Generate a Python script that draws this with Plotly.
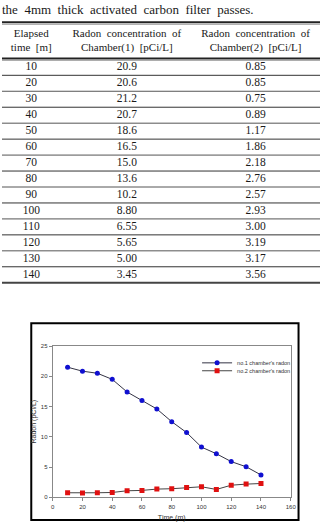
import plotly.graph_objects as go

# ---------------- data ----------------
caption = "the  4mm  thick  activated  carbon  filter  passes."
header_time = ["Elapsed", "time  [m]"]
header_c1 = ["Radon  concentration  of", "Chamber(1)  [pCi/L]"]
header_c2 = ["Radon  concentration  of", "Chamber(2)  [pCi/L]"]
elapsed = ["10", "20", "30", "40", "50", "60", "70", "80", "90", "100", "110", "120", "130", "140"]
table_c1 = ["20.9", "20.6", "21.2", "20.7", "18.6", "16.5", "15.0", "13.6", "10.2", "8.80", "6.55", "5.65", "5.00", "3.45"]
table_c2 = ["0.85", "0.85", "0.75", "0.89", "1.17", "1.86", "2.18", "2.76", "2.57", "2.93", "3.00", "3.19", "3.17", "3.56"]

time_plot = [10, 20, 30, 40, 50, 60, 70, 80, 90, 100, 110, 120, 130, 140]
radon1_plot = [21.5, 20.85, 20.5, 19.5, 17.4, 16.0, 14.6, 12.5, 10.7, 8.3, 7.2, 5.9, 5.05, 3.7]
radon2_plot = [0.75, 0.7, 0.75, 0.8, 1.08, 1.14, 1.36, 1.42, 1.62, 1.74, 1.3, 2.0, 2.18, 2.28]

legend_names = ["no.1 chamber's radon", "no.2 chamber's radon"]
x_ticks = [0, 20, 40, 60, 80, 100, 120, 140, 160]
y_ticks = [0, 5, 10, 15, 20, 25]

# ---------------- layout constants ----------------
W, H = 326, 527
col_x = [30, 128, 260]
serif = "Liberation Serif"
sans = "Liberation Sans"
n = len(elapsed)

fig = go.Figure()

# ---- table drawn on its own hidden axes (x in px units, y in row units) ----
row_y = [i + 0.5 for i in range(n)]
for cx, col in zip(col_x, [elapsed, table_c1, table_c2]):
    fig.add_trace(go.Scatter(
        x=[cx] * n, y=row_y, text=col, mode="text",
        textfont=dict(family=serif, size=11.5, color="#1a1a1a"),
        xaxis="x2", yaxis="y2", showlegend=False, hoverinfo="skip"))
for cx, hdr in zip(col_x, [header_time, header_c1, header_c2]):
    fig.add_trace(go.Scatter(
        x=[cx, cx], y=[-1.57, -0.70], text=hdr, mode="text",
        textfont=dict(family=serif, size=11, color="#1a1a1a"),
        xaxis="x2", yaxis="y2", showlegend=False, hoverinfo="skip"))
fig.add_trace(go.Scatter(
    x=[0], y=[-3.05], text=[caption], mode="text", textposition="middle right",
    textfont=dict(family=serif, size=13, color="#1a1a1a"),
    xaxis="x2", yaxis="y2", showlegend=False, hoverinfo="skip"))

shapes = []
def hline(y, color, width):
    shapes.append(dict(type="line", xref="paper", yref="y2", x0=0, x1=1, y0=y, y1=y,
                       line=dict(color=color, width=width)))
hline(-2.33, "#222", 2)
hline(-2.20, "#999", 1)
hline(-0.06, "#222", 2)
hline(0.06, "#999", 1)
for i in range(1, n):
    hline(i, "#333" if i % 2 else "#555", 1)
hline(n, "#444", 2)

# ---- chart ----
fig.add_trace(go.Scatter(
    x=time_plot, y=radon1_plot, name=legend_names[0], mode="lines+markers",
    line=dict(color="#333344", width=1),
    marker=dict(symbol="circle", size=5, color="#1010d0"),
    legend="legend"))
fig.add_trace(go.Scatter(
    x=time_plot, y=radon2_plot, name=legend_names[1], mode="lines+markers",
    line=dict(color="#444444", width=1),
    marker=dict(symbol="square", size=5, color="#e01010"),
    legend="legend2"))

# outer frame around chart
shapes.append(dict(type="rect", xref="paper", yref="paper",
                   x0=30 / W, x1=304 / W, y0=1 - 523 / H, y1=1 - 324 / H,
                   line=dict(color="#000", width=2)))

leg_common = dict(font=dict(family=sans, size=5.5, color="#333"), bgcolor="rgba(0,0,0,0)",
                  borderwidth=0, xanchor="left", yanchor="middle", itemwidth=30,
                  tracegroupgap=0)

fig.update_layout(
    width=W, height=H, autosize=False,
    margin=dict(l=0, r=0, t=0, b=0),
    paper_bgcolor="white", plot_bgcolor="white",
    shapes=shapes,
    xaxis=dict(domain=[52 / W, 296 / W], range=[0, 160], tickvals=x_ticks,
               ticks="outside", ticklen=3, tickcolor="#888", showline=True, linecolor="#888",
               linewidth=1, mirror=True, showgrid=False, zeroline=False,
               tickfont=dict(family=sans, size=6, color="#333"),
               title=dict(text="Time (m)", font=dict(family=sans, size=7, color="#333"), standoff=6)),
    yaxis=dict(domain=[1 - 500 / H, 1 - 347 / H], range=[0, 25], tickvals=y_ticks,
               ticks="outside", ticklen=3, tickcolor="#888", showline=True, linecolor="#888",
               linewidth=1, mirror=True, showgrid=False, zeroline=False,
               tickfont=dict(family=sans, size=6, color="#333"),
               title=dict(text="Radon (pCi/L)", font=dict(family=sans, size=7, color="#333"), standoff=3)),
    xaxis2=dict(domain=[0, 1], range=[0, W], visible=False, fixedrange=True),
    yaxis2=dict(domain=[1 - 290 / H, 1], range=[(290 - 57) / 16.14, -57 / 16.14],
                visible=False, fixedrange=True),
    legend=dict(x=200 / W, y=1 - 364 / H, **leg_common),
    legend2=dict(x=200 / W, y=1 - 372 / H, **leg_common),
)

fig.write_html("out.html")
